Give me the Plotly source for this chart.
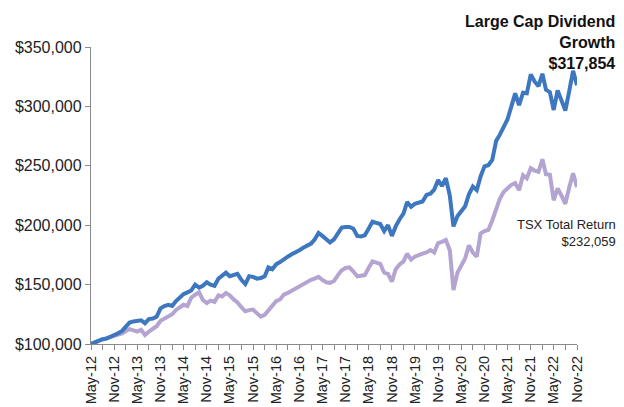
import pandas as pd
import plotly.graph_objects as go

# Monthly dates May-2012 .. Nov-2022
dates = pd.date_range("2012-05-01", "2022-11-01", freq="MS")

# Growth of $100,000 (in $ thousands)
large_cap_div_growth = [
    100, 101.5, 103, 104, 104.5, 106, 107, 109, 111, 115,
    118, 119, 119.5, 120, 117.5, 121, 121.5, 123, 130, 132,
    133, 132, 136, 139.5, 142, 143.5, 145, 150, 147.5, 149,
    152, 150, 149, 155, 157, 160, 157, 158, 159, 154,
    150.5, 157, 156.5, 155, 155.5, 157, 164.5, 163, 167, 169,
    171.5, 173.5, 175.5, 177, 179, 181, 182.5, 184.5, 188, 193.5,
    191, 188, 185.5, 188, 193, 198, 198.5, 198.5, 197, 191,
    190.5, 191.5, 197, 203, 202, 201, 195, 200, 191, 199,
    205, 210, 219.5, 215.5, 218, 219, 220, 225.5, 226.5, 230,
    238, 233, 239.5, 225, 199, 207.5, 212, 216, 226, 232.5,
    229.5, 241, 249.5, 250.5, 255, 271, 276, 282.5, 289, 300,
    311, 301, 311.5, 311, 327, 321, 317, 327.5, 314, 312,
    297, 313.5, 305, 296.5, 313, 330, 317.854,
]
tsx_total_return = [
    100, 101.5, 103, 104, 105, 106, 107.5, 108.5, 109, 111,
    112.5, 111.5, 110.5, 112, 107.5, 110.5, 113, 115, 119.5, 121,
    123, 125, 128.5, 131, 133, 132, 139, 141.5, 143.5, 137,
    134.5, 136.5, 135.5, 141, 140, 143, 141, 137.5, 135, 131,
    127.5, 128.5, 129, 126, 123, 124.5, 128.5, 133, 136, 137.5,
    141.5, 143, 145, 146.5, 148.5, 150.5, 152.5, 154, 155, 156.5,
    154, 152, 151.5, 153, 158, 162, 164, 164.5, 161, 157,
    157.5, 158, 164, 169.5, 168.5, 167.5, 160, 159, 152.5, 163,
    167, 169.5, 176, 171, 173.5, 175, 176, 177, 179, 177,
    185, 186, 187.5, 179, 145.5, 160, 165.5, 172, 183, 177,
    173.5, 193, 195, 196, 204, 214, 222, 228, 231.5, 234,
    235.5, 229.5, 242, 239.5, 248, 246, 245, 255.5, 243, 242.5,
    221, 231, 225, 218, 232, 243.7, 232.059,
]

tick_labels = ["May-12", "Nov-12", "May-13", "Nov-13", "May-14", "Nov-14",
               "May-15", "Nov-15", "May-16", "Nov-16", "May-17", "Nov-17",
               "May-18", "Nov-18", "May-19", "Nov-19", "May-20", "Nov-20",
               "May-21", "Nov-21", "May-22", "Nov-22"]

y_ticks = [100000, 150000, 200000, 250000, 300000, 350000]

blue = "#3D77BF"
purple = "#B4A4D1"

fig = go.Figure()
fig.add_trace(go.Scatter(x=dates, y=[v * 1000 for v in tsx_total_return],
                         mode="lines", line=dict(color=purple, width=4),
                         name="TSX Total Return"))
fig.add_trace(go.Scatter(x=dates, y=[v * 1000 for v in large_cap_div_growth],
                         mode="lines", line=dict(color=blue, width=4),
                         name="Large Cap Dividend Growth"))

# ticks every 3 months, labels every 6 months
tick_dates = list(dates[::3])
tick_text = []
for i in range(len(tick_dates)):
    tick_text.append(tick_labels[i // 2] if i % 2 == 0 else "")

font_fam = "Liberation Sans, Arial, sans-serif"
# page body has an 8px default margin, so the figure is sized to fit the window
fig.update_layout(
    width=616, height=399,
    margin=dict(l=83, r=47, t=39, b=63),
    paper_bgcolor="white", plot_bgcolor="white",
    showlegend=False,
    font=dict(family=font_fam, color="#222222"),
    xaxis=dict(
        type="date",
        range=[dates[0], dates[-1]],
        tickvals=tick_dates, ticktext=tick_text,
        tickangle=-90,
        ticks="outside", ticklen=5, tickcolor="#8a8a8a",
        showline=True, linecolor="#8a8a8a", linewidth=1.3,
        showgrid=False, zeroline=False, automargin=False,
        tickfont=dict(size=14.5, color="#222222"),
    ),
    yaxis=dict(
        range=[100000, 350000],
        tickvals=y_ticks, tickformat="$,.0f",
        ticks="outside", ticklen=5, tickcolor="#8a8a8a",
        showline=True, linecolor="#8a8a8a", linewidth=1.3,
        showgrid=False, zeroline=False, automargin=False,
        tickfont=dict(size=16, color="#222222"),
    ),
    annotations=[
        dict(xref="paper", yref="paper", x=1.082, y=1.12,
             xanchor="right", yanchor="top", align="right", showarrow=False,
             text="<b>Large Cap Dividend<br>Growth<br>$317,854</b>",
             font=dict(size=16, color="#111111", family=font_fam)),
        dict(xref="paper", yref="paper", x=1.084, y=0.435,
             xanchor="right", yanchor="top", align="right", showarrow=False,
             text="TSX Total Return<br>$232,059",
             font=dict(size=13, color="#222222", family=font_fam)),
    ],
)

fig.write_html("out.html")
